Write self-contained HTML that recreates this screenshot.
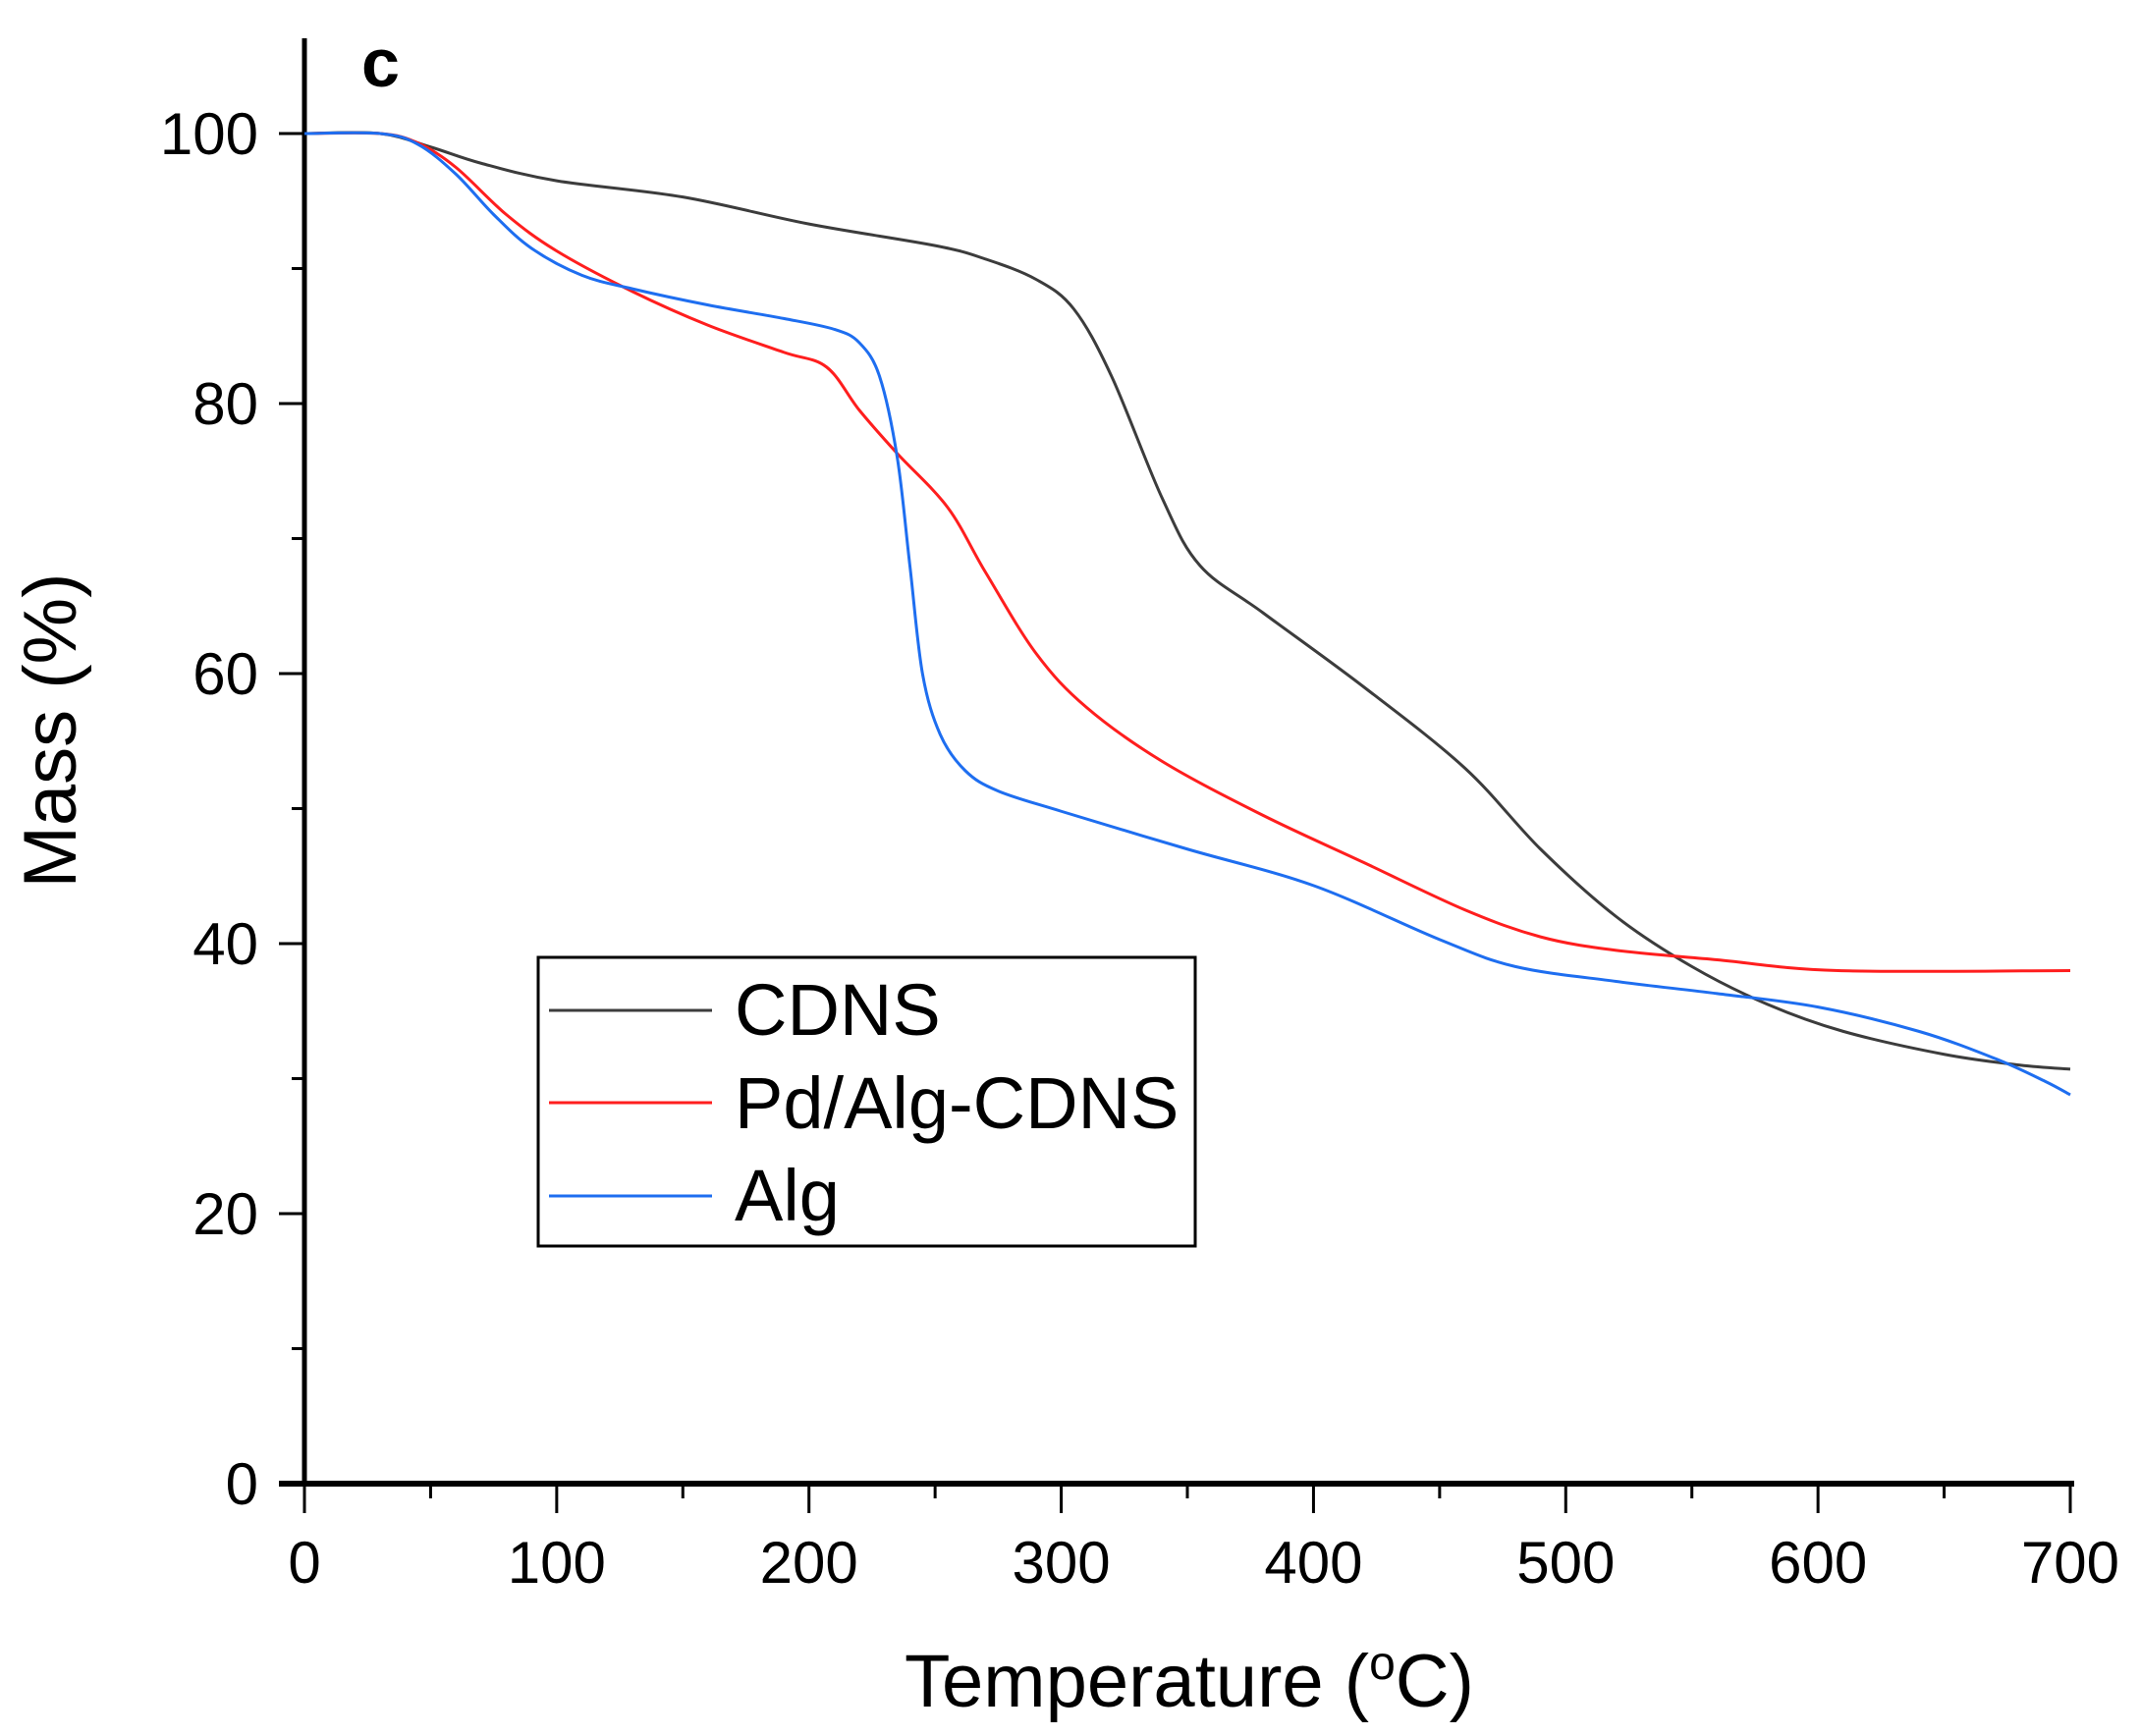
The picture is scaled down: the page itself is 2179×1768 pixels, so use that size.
<!DOCTYPE html>
<html><head><meta charset="utf-8"><style>
html,body{margin:0;padding:0;background:#fff;}
svg{display:block;font-family:"Liberation Sans",Arial,sans-serif;}
</style></head><body>
<svg id="chart" width="2179" height="1768" viewBox="0 0 2179 1768">
<text x="368" y="88" font-size="70" font-weight="bold">c</text>
<g id="axes"></g>
<g id="series"></g>
<g id="legend">
<rect x="548" y="975" width="669" height="294" fill="#fff" stroke="#000" stroke-width="3"/>
<line x1="559" y1="1029" x2="725" y2="1029" stroke="#3c3c3c" stroke-width="3"/>
<text x="748" y="1054" font-size="74">CDNS</text>
<line x1="559" y1="1123" x2="725" y2="1123" stroke="#ff1e1e" stroke-width="3"/>
<text x="748" y="1149" font-size="74">Pd/Alg-CDNS</text>
<line x1="559" y1="1218" x2="725" y2="1218" stroke="#1e6ef0" stroke-width="3"/>
<text x="748" y="1243" font-size="74">Alg</text>
</g>
<text x="1211" y="1738" font-size="76" text-anchor="middle">Temperature (<tspan font-size="48" dy="-28">o</tspan><tspan dy="28">C)</tspan></text>
<text transform="translate(77,744) rotate(-90)" font-size="76" text-anchor="middle">Mass (%)</text>
</svg>
<script>
const xTicks=[0,100,200,300,400,500,600,700];
const yTicks=[0,20,40,60,80,100];
const cdnsT=[0,30,50,70,100,150,200,250,270,290,305,320,340,355,380,420,460,490,520,550,580,610,650,680,700];
const cdnsM=[100,100,99,97.8,96.5,95.3,93.3,91.7,90.7,89.2,87,82,73,68,64.5,59,53,47,42,38.3,35.5,33.5,31.8,31,30.7];
const pdT=[0,30,45,60,80,100,130,160,190,207,220,235,255,270,290,310,340,380,420,460,490,520,560,608,700];
const pdM=[100,100,99.3,97.5,94,91.3,88.3,85.8,83.8,82.7,79.5,76.3,72.3,67.5,61.5,57.5,53.5,49.5,46,42.5,40.5,39.5,38.8,38,38];
const algT=[0,30,45,60,75,90,110,130,160,190,210,220,228,235,240,245,252,262,275,300,350,400,450,480,520,560,600,640,670,690,700];
const algM=[100,100,99.2,97,94,91.5,89.5,88.5,87.3,86.3,85.5,84.5,82,76,68,60,55.5,52.8,51.3,49.8,47,44.3,40.3,38.3,37.2,36.3,35.3,33.5,31.5,29.8,28.8];
const X0=310,X1=2108,Y0=1511,Y100=136;
const sx=v=>X0+(X1-X0)*v/700;
const sy=v=>Y0-(Y0-Y100)*v/100;
const NS="http://www.w3.org/2000/svg";
const axes=document.getElementById('axes');
function mk(tag,attrs,parent){const e=document.createElementNS(NS,tag);for(const k in attrs)e.setAttribute(k,attrs[k]);parent.appendChild(e);return e;}
let e=mk('line',{x1:X0,y1:39,x2:X0,y2:Y0,stroke:'#000','stroke-width':5},axes);


e=mk('line',{x1:284,y1:Y0,x2:2112,y2:Y0,stroke:'#000','stroke-width':6},axes);


for(let v=0;v<=700;v+=50){const maj=v%100===0;
 e=mk('line',{x1:sx(v),y1:Y0,x2:sx(v),y2:Y0+(maj?30:15),stroke:'#000','stroke-width':3},axes);
 
 }
xTicks.forEach(v=>{e=mk('text',{x:sx(v),y:1612,'font-size':60,'text-anchor':'middle'},axes);e.textContent=v;
 
 });
for(let v=0;v<=100;v+=10){const maj=v%20===0;
 e=mk('line',{x1:X0-(maj?26:13),y1:sy(v),x2:X0,y2:sy(v),stroke:'#000','stroke-width':3},axes);
 
 }
yTicks.forEach(v=>{e=mk('text',{x:263,y:sy(v)+21,'font-size':60,'text-anchor':'end'},axes);e.textContent=v;
 
 });
const ser=document.getElementById('series');
function path(T,M){
 const p=T.map((t,i)=>[sx(t),sy(M[i])]);
 let d='M'+p[0][0]+','+p[0][1];
 for(let i=0;i<p.length-1;i++){
  const a=p[Math.max(0,i-1)],b=p[i],c=p[i+1],n=p[Math.min(p.length-1,i+2)];
  const c1=[b[0]+(c[0]-a[0])/6,b[1]+(c[1]-a[1])/6],c2=[c[0]-(n[0]-b[0])/6,c[1]-(n[1]-b[1])/6];
  d+=' C'+c1[0]+','+c1[1]+' '+c2[0]+','+c2[1]+' '+c[0]+','+c[1];
 }
 return d;}
e=mk('path',{d:path(cdnsT,cdnsM),fill:'none',stroke:'#3c3c3c','stroke-width':3},ser);


e=mk('path',{d:path(pdT,pdM),fill:'none',stroke:'#ff1e1e','stroke-width':3},ser);


e=mk('path',{d:path(algT,algM),fill:'none',stroke:'#1e6ef0','stroke-width':3},ser);


</script>
</body></html>
